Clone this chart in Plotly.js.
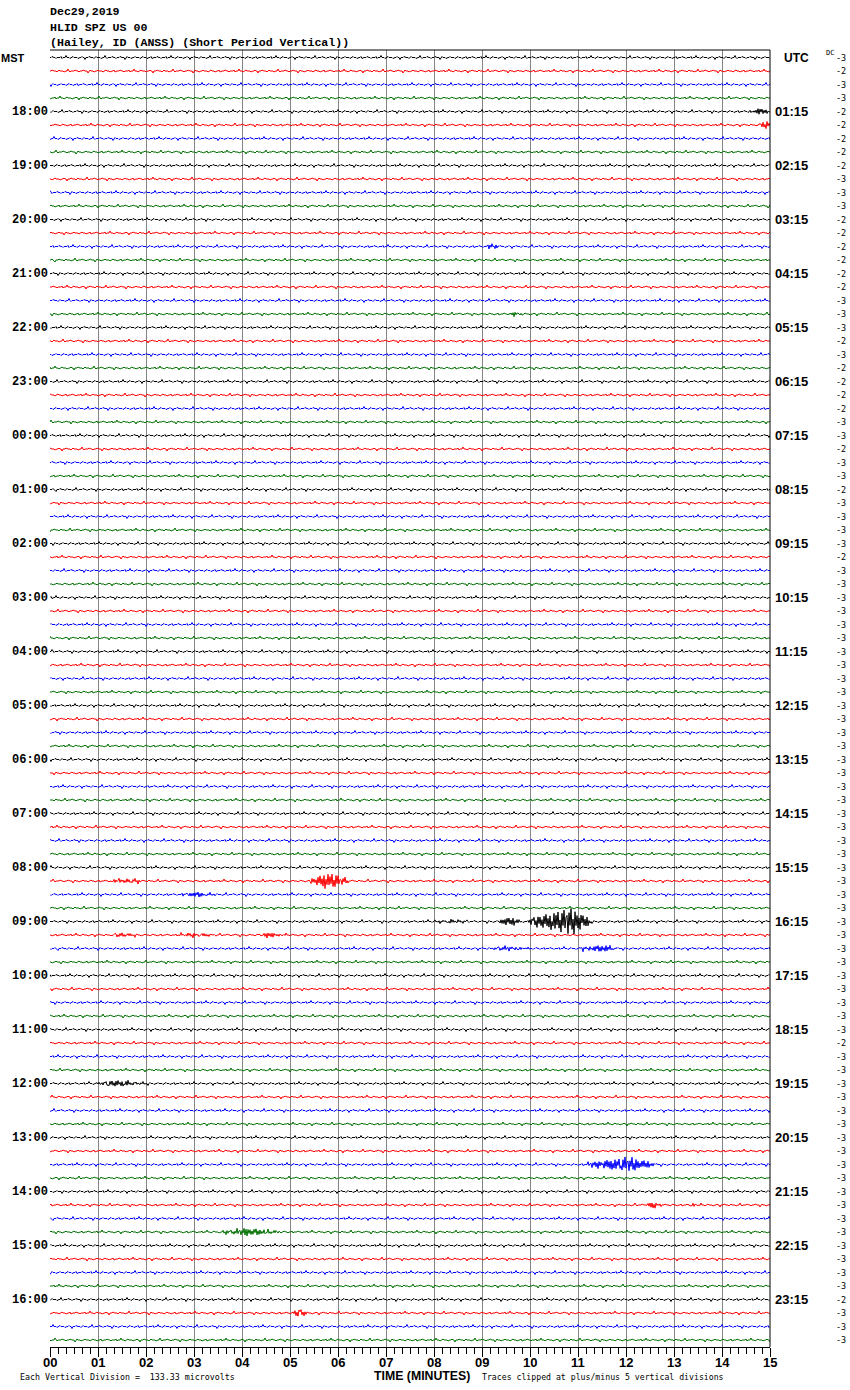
<!DOCTYPE html>
<html><head><meta charset="utf-8">
<script src="https://cdn.plot.ly/plotly-3.0.1.min.js"></script>
<style>html,body{margin:0;padding:0;background:#fff}#chart{width:850px;height:1390px}</style>
</head><body><div id="chart"></div>
<script>
// ---------------- data ----------------
const titleLines = ["Dec29,2019", "HLID SPZ US 00", "(Hailey, ID (ANSS) (Short Period Vertical))"];
const mstLabels = ["18:00","19:00","20:00","21:00","22:00","23:00","00:00","01:00","02:00","03:00","04:00","05:00",
                   "06:00","07:00","08:00","09:00","10:00","11:00","12:00","13:00","14:00","15:00","16:00"];
const utcLabels = ["01:15","02:15","03:15","04:15","05:15","06:15","07:15","08:15","09:15","10:15","11:15","12:15",
                   "13:15","14:15","15:15","16:15","17:15","18:15","19:15","20:15","21:15","22:15","23:15"];
const dcLabels = [
  "-3","-2","-3","-3",  "-2","-2","-2","-2",  "-2","-3","-3","-3",  "-2","-2","-2","-2",
  "-2","-2","-3","-3",  "-3","-2","-3","-2",  "-2","-2","-2","-3",  "-3","-2","-3","-3",
  "-2","-3","-3","-3",  "-3","-2","-3","-3",  "-3","-3","-3","-3",  "-3","-3","-3","-3",
  "-3","-3","-3","-3",  "-3","-3","-3","-3",  "-3","-3","-3","-3",  "-3","-3","-3","-3",
  "-3","-3","-3","-3",  "-3","-3","-3","-3",  "-3","-2","-3","-3",  "-3","-3","-3","-3",
  "-3","-3","-3","-3",  "-3","-3","-3","-3",  "-3","-3","-3","-3",  "-2","-3","-3","-3"];
const traceColors = ["#000000", "#ff0000", "#0000ff", "#007000"];
const minuteTicks = [0,1,2,3,4,5,6,7,8,9,10,11,12,13,14,15];
const minuteTickText = ["00","01","02","03","04","05","06","07","08","09","10","11","12","13","14","15"];
const bottomLeftNote = "Each Vertical Division =  133.33 microvolts";
const bottomRightNote = "Traces clipped at plus/minus 5 vertical divisions";
const axisTitle = "TIME (MINUTES)";
// background noise texture, in pixels (hand typed)
const noisePattern = [0,0,1,0,0,0,-1,0,0,0,0,1,-1,0,0,0,2,0,0,0,-1,0,0,1,0,0,0,0,-1,0,0,0,1,0,0,-2,0,0,0,1,
  0,0,0,0,-1,0,1,0,0,0,0,-1,0,0,0,2,0,-1,0,0,0,0,1,0,0,0,-1,0,0,0,1,0,0,0,0,-2,0,1,0,0,0,-1,0,0,0,1,0,0,0,0,
  -1,0,0,1,0,0,0,-1,0,0,0,1,-1,0,0];
// oscillation shape used inside events (hand typed)
const burstPattern = [0.5,-0.9,0.7,-0.3,1.0,-0.8,0.2,-1.0,0.9,-0.4,0.6,-0.7,0.3,-0.95,0.8,-0.2,1.0,-0.6,0.4,-0.85,
  0.7,-1.0,0.25,-0.5,0.9,-0.75,0.55,-0.35,0.95,-0.65,0.15,-0.9,0.75,-0.45,1.0,-0.55,0.35];
// events: [row, start minute, peak minute, end minute, peak amplitude (px)]
const eventRows   = [4, 5, 14, 19, 61, 61, 62, 64, 64, 64, 65, 65, 65, 66, 66, 76, 82, 85, 85, 87, 93];
const eventStart  = [14.55,14.75,9.10,9.55,1.30,5.40,2.75,8.00,9.35,10.00,1.30,2.70,4.30,9.20,11.00,0.90,11.20,12.40,13.30,3.60,5.05];
const eventPeak   = [14.85,14.92,9.22,9.70,1.60,5.83,3.10,8.30,9.55,10.85,1.50,3.00,4.60,9.50,11.55,1.40,12.05,12.55,13.40,4.10,5.20];
const eventEnd    = [15.00,15.00,9.35,9.85,1.95,6.20,3.45,8.70,9.80,11.25,1.80,3.50,4.90,10.00,11.80,2.00,12.60,12.75,13.55,4.80,5.35];
const eventAmp    = [3.5, 4, 3, 2, 2.5, 8, 2.5, 2, 4.5, 13, 2, 2, 2.5, 2, 3.5, 3, 7, 3, 2, 4, 4];

// ---------------- build ----------------
const NROWS = 96, NS = 720, PXU = 13.5;
const xs = [], ys = [];
for (let c = 0; c < 4; c++) { xs.push([]); ys.push([]); }
for (let r = 0; r < NROWS; r++) {
  const c = r % 4;
  for (let j = 0; j <= NS; j++) {
    const t = j * 15 / NS;
    let px = noisePattern[(j + r * 37) % noisePattern.length];
    for (let e = 0; e < eventRows.length; e++) {
      if (eventRows[e] !== r) continue;
      const s = eventStart[e], p = eventPeak[e], en = eventEnd[e];
      if (t >= s && t <= en) {
        const env = t < p ? (t - s) / Math.max(p - s, 1e-6) : (en - t) / Math.max(en - p, 1e-6);
        px += eventAmp[e] * (0.25 + 0.75 * env) * burstPattern[(j + r * 11) % burstPattern.length];
      }
    }
    xs[c].push(t); ys[c].push(-r + px / PXU);
  }
  xs[c].push(null); ys[c].push(null);
}
const traces = traceColors.map((col, c) => ({
  type: 'scatter', mode: 'lines', x: xs[c], y: ys[c],
  line: {color: col, width: 1}, hoverinfo: 'skip', showlegend: false
}));

const L = 50, R = 770, T = 50, B = 1347;
const px2x = p => (p - L) / (R - L);
const py2y = p => (B - p) / (B - T);
const ann = [];
const mono = "Liberation Mono";
titleLines.forEach((s, i) => ann.push({xref:'paper', yref:'paper', x: px2x(48), y: py2y(12 + i * 15), xanchor:'left', yanchor:'middle',
  text: s, showarrow:false, font:{family: mono, size: 11.6, weight: 'bold', color:'#000'}}));
ann.push({xref:'paper', yref:'y', x: px2x(-1), y: 0, xanchor:'left', yanchor:'middle', text:'MST', showarrow:false,
  font:{family:'Liberation Sans', size:11, weight:'bold', color:'#000'}});
ann.push({xref:'paper', yref:'y', x: px2x(782), y: 0, xanchor:'left', yanchor:'middle', text:'UTC', showarrow:false,
  font:{family:'Liberation Sans', size:12, weight:'bold', color:'#000'}});
mstLabels.forEach((s, i) => ann.push({xref:'paper', yref:'y', x: px2x(50), y: -(4 + 4 * i), xanchor:'right', yanchor:'middle',
  text: s, showarrow:false, font:{family: mono, size: 12, weight:'bold', color:'#000'}}));
utcLabels.forEach((s, i) => ann.push({xref:'paper', yref:'y', x: px2x(773), y: -(4 + 4 * i), xanchor:'left', yanchor:'middle',
  text: s, showarrow:false, font:{family:'Liberation Sans', size: 13, weight:'bold', color:'#000'}}));
dcLabels.forEach((s, i) => ann.push({xref:'paper', yref:'y', x: px2x(834), y: -i, xanchor:'left', yanchor:'middle',
  text: s, showarrow:false, font:{family:'DejaVu Sans Mono', size: 8.5, color:'#000'}}));
ann.push({xref:'paper', yref:'paper', x: px2x(824), y: py2y(53), xanchor:'left', yanchor:'middle', text:'DC', showarrow:false,
  font:{family:'DejaVu Sans Mono', size: 7, color:'#000'}});
minuteTicks.forEach((v, i) => ann.push({xref:'x', yref:'paper', x: v, y: py2y(1362), xanchor:'center', yanchor:'middle',
  text: minuteTickText[i], showarrow:false, font:{family:'Liberation Sans', size: 13, weight:'bold', color:'#000'}}));
ann.push({xref:'paper', yref:'paper', x: px2x(18), y: py2y(1377), xanchor:'left', yanchor:'middle', text: bottomLeftNote, showarrow:false,
  font:{family:'DejaVu Sans Mono', size: 8.3, color:'#000'}});
ann.push({xref:'paper', yref:'paper', x: px2x(372), y: py2y(1376), xanchor:'left', yanchor:'middle', text: axisTitle, showarrow:false,
  font:{family:'Liberation Sans', size: 12.3, weight:'bold', color:'#000'}});
ann.push({xref:'paper', yref:'paper', x: px2x(480), y: py2y(1377), xanchor:'left', yanchor:'middle', text: bottomRightNote, showarrow:false,
  font:{family:'DejaVu Sans Mono', size: 8.2, color:'#000'}});

const layout = {
  width: 850, height: 1390,
  margin: {l: L, r: 850 - R, t: T, b: 1390 - B, pad: 0},
  paper_bgcolor: '#fff', plot_bgcolor: '#fff',
  showlegend: false,
  xaxis: {range: [0, 15], tickmode: 'array', tickvals: minuteTicks, showticklabels: false,
    showgrid: true, gridcolor: '#858585', gridwidth: 1, zeroline: false,
    showline: true, linecolor: '#000', linewidth: 1, ticks: 'outside', ticklen: 9, tickwidth: 1, tickcolor: '#000',
    minor: {tick0: 0, dtick: 1/6, ticks: 'outside', ticklen: 6, tickwidth: 1, tickcolor: '#000', showgrid: false},
    fixedrange: true},
  yaxis: {range: [-(NROWS - 1) - 7 / PXU, 7.5 / PXU], visible: false, fixedrange: true},
  shapes: [
    {type:'line', xref:'paper', yref:'paper', x0:0, x1:1, y0:1, y1:1, line:{color:'#000', width:1}},
    {type:'line', xref:'paper', yref:'paper', x0:1, x1:1, y0:0, y1:1, line:{color:'#000', width:1}}
  ],
  annotations: ann
};
Plotly.newPlot('chart', traces, layout, {staticPlot: true, displayModeBar: false});
</script>
</body></html>
